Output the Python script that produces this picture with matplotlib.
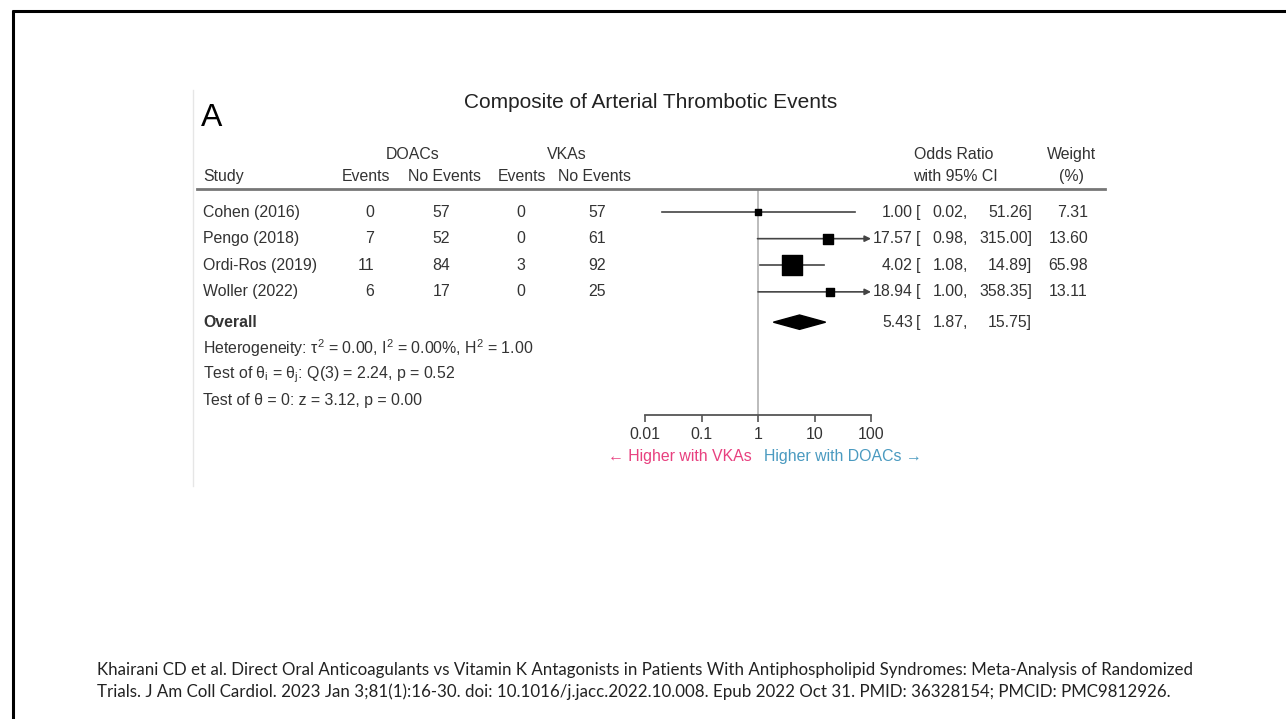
import numpy as np
import matplotlib
matplotlib.use("Agg")
import matplotlib.pyplot as plt
from matplotlib.lines import Line2D
from matplotlib.transforms import blended_transform_factory

plt.rcParams['font.family'] = ['Liberation Sans', 'DejaVu Sans']
plt.rcParams['mathtext.fontset'] = 'custom'
plt.rcParams['mathtext.rm'] = 'Liberation Sans'
plt.rcParams['mathtext.it'] = 'Liberation Sans:italic'
plt.rcParams['mathtext.default'] = 'regular'

# study-level data
studies = ["Cohen (2016)", "Pengo (2018)", "Ordi-Ros (2019)", "Woller (2022)"]
doac_events = [0, 7, 11, 6]
doac_no_events = [57, 52, 84, 17]
vka_events = [0, 0, 3, 0]
vka_no_events = [57, 61, 92, 25]
odds_ratio = [1.00, 17.57, 4.02, 18.94]
ci_low = [0.02, 0.98, 1.08, 1.00]
ci_high = [51.26, 315.00, 14.89, 358.35]
weights = [7.31, 13.60, 65.98, 13.11]

# pooled estimate
overall_or = 5.43
overall_low = 1.87
overall_high = 15.75

stats_lines = [
    "Heterogeneity: τ$^2$ = 0.00, I$^2$ = 0.00%, H$^2$ = 1.00",
    "Test of θ$_i$ = θ$_j$: Q(3) = 2.24, p = 0.52",
    "Test of θ = 0: z = 3.12, p = 0.00",
]
xticks = [0.01, 0.1, 1, 10, 100]
xtick_labels = ["0.01", "0.1", "1", "10", "100"]

W, H = 1286, 719
TXT = "#333333"
LINE = "#444444"
FS = 11.4


def fx(px):
    return px / W


def fy(py):
    return 1 - py / H


fig = plt.figure(figsize=(W / 100, H / 100), dpi=100)

# slide frame
fig.add_artist(Line2D([fx(12), 1], [fy(10.5), fy(10.5)], color="black", lw=2.2,
                      solid_capstyle="butt"))
fig.add_artist(Line2D([fx(12.5), fx(12.5)], [fy(10), 0], color="black", lw=2.2,
                      solid_capstyle="butt"))
fig.add_artist(Line2D([fx(193), fx(193)], [fy(90), fy(486)], color="#e6e6e6", lw=1))

ax = fig.add_axes([fx(645), fy(415), fx(871) - fx(645), fy(190) - fy(415)])
ax.set_xscale("log")
ax.set_xlim(0.01, 100)
row_y = np.arange(len(studies))
overall_y = 4.14
stats_y = [5.11, 6.13, 7.1]
ax.set_ylim(7.63, -0.83)

for s in ["top", "right", "left"]:
    ax.spines[s].set_visible(False)
ax.spines["bottom"].set_color("#555555")
ax.spines["bottom"].set_linewidth(1.3)
ax.set_yticks([])
ax.set_xticks(xticks)
ax.set_xticklabels(xtick_labels)
ax.minorticks_off()
ax.tick_params(axis="x", direction="out", length=5, width=1.2, color="#555555",
               labelsize=FS, labelcolor=TXT, pad=4)
ax.patch.set_alpha(0)

ax.axvline(1, color="#b0b0b0", lw=1.2, zorder=0)

# confidence intervals and weighted squares
for y, est, lo, hi, w in zip(row_y, odds_ratio, ci_low, ci_high, weights):
    lo_c = max(lo, 0.01)
    if hi > 100:
        ax.annotate("", xy=(100, y), xytext=(lo_c, y),
                    arrowprops=dict(arrowstyle="-|>", color=LINE, lw=1.2,
                                    mutation_scale=9, shrinkA=0, shrinkB=0))
    else:
        ax.plot([lo_c, hi], [y, y], color=LINE, lw=1.2)
    ax.scatter(est, y, marker="s", s=3.1 * w, color="black", zorder=3)

# pooled diamond
dh = 0.27
ax.fill([overall_low, overall_or, overall_high, overall_or],
        [overall_y, overall_y - dh, overall_y, overall_y + dh],
        color="black", zorder=3)

tr = blended_transform_factory(fig.transFigure, ax.transData)


def put(px, y, s, ha="left", **kw):
    ax.text(fx(px), y, s, transform=tr, ha=ha, va="center", fontsize=FS,
            color=TXT, clip_on=False, **kw)


# column headers
put(203, -1.32, "Study")
put(413, -2.18, "DOACs", ha="center")
put(567, -2.18, "VKAs", ha="center")
put(366, -1.32, "Events", ha="center")
put(444, -1.32, "No Events", ha="center")
put(522, -1.32, "Events", ha="center")
put(595, -1.32, "No Events", ha="center")
put(954, -2.18, "Odds Ratio", ha="center")
put(955, -1.32, "with 95% CI", ha="center")
put(1071, -2.18, "Weight", ha="center")
put(1071, -1.32, "(%)", ha="center")
fig.add_artist(Line2D([fx(197), fx(1105)], [fy(188.5), fy(188.5)], color="#777777", lw=2))

# study rows
for y, name, de, dn, ve, vn, est, lo, hi, w in zip(
        row_y, studies, doac_events, doac_no_events, vka_events, vka_no_events,
        odds_ratio, ci_low, ci_high, weights):
    put(203, y, name)
    put(374, y, str(de), ha="right")
    put(450, y, str(dn), ha="right")
    put(525, y, str(ve), ha="right")
    put(606, y, str(vn), ha="right")
    put(913, y, f"{est:.2f}", ha="right")
    put(916, y, "[")
    put(968, y, f"{lo:.2f},", ha="right")
    put(1032, y, f"{hi:.2f}]", ha="right")
    put(1088, y, f"{w:.2f}", ha="right")

put(203, overall_y, "Overall", fontweight="bold")
put(913, overall_y, f"{overall_or:.2f}", ha="right")
put(916, overall_y, "[")
put(968, overall_y, f"{overall_low:.2f},", ha="right")
put(1032, overall_y, f"{overall_high:.2f}]", ha="right")

for y, s in zip(stats_y, stats_lines):
    put(203, y, s)

# direction labels
fig.text(fx(752), fy(456), "← Higher with VKAs", ha="right", va="center",
         fontsize=FS, color="#e8407f")
fig.text(fx(764), fy(456), "Higher with DOACs →", ha="left", va="center",
         fontsize=FS, color="#4a9ac0")

fig.text(fx(651), fy(102), "Composite of Arterial Thrombotic Events", ha="center",
         va="center", fontsize=15, color="#222222")
fig.text(fx(201), fy(118), "A", ha="left", va="center", fontsize=23, color="black")

footer = ("Khairani CD et al. Direct Oral Anticoagulants vs Vitamin K Antagonists in Patients "
          "With Antiphospholipid Syndromes: Meta-Analysis of Randomized\n"
          "Trials. J Am Coll Cardiol. 2023 Jan 3;81(1):16-30. doi: 10.1016/j.jacc.2022.10.008. "
          "Epub 2022 Oct 31. PMID: 36328154; PMCID: PMC9812926.")
fig.text(fx(97), fy(681), footer, ha="left", va="center", fontsize=12.2,
         family="Lato", color="#222222", linespacing=1.45)

fig.savefig("out.png", dpi=100)
